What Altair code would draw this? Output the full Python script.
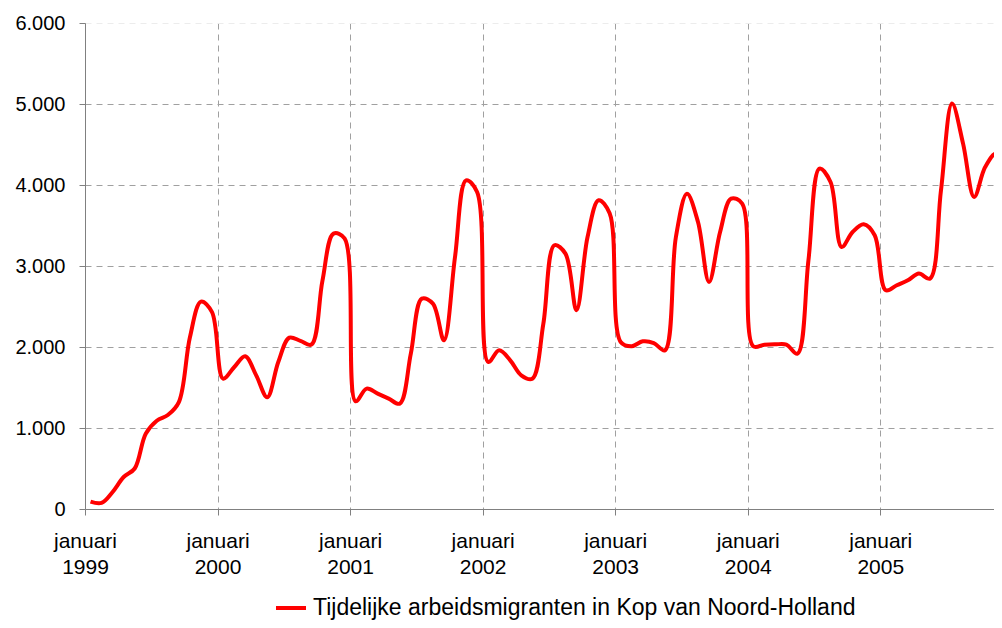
import altair as alt
import pandas as pd

series_name = "Tijdelijke arbeidsmigranten in Kop van Noord-Holland"

# monthly values, januari 1999 .. december 2005
values = [
    90, 75, 210, 395, 500, 930, 1090, 1160, 1320, 2120, 2560, 2430,      # 1999
    1610, 1750, 1885, 1650, 1380, 1815, 2115, 2075, 2030, 2820, 3400, 3340,  # 2000
    1330, 1486, 1424, 1363, 1301, 1918, 2597, 2536, 2083, 3111, 4058, 3914,  # 2001
    1815, 1959, 1836, 1651, 1609, 2289, 3256, 3153, 2453, 3358, 3811, 3650,  # 2002
    2062, 2009, 2070, 2049, 1959, 3358, 3893, 3543, 2802, 3420, 3832, 3770,  # 2003
    2009, 2029, 2033, 2030, 1918, 3070, 4202, 4037, 3235, 3420, 3515, 3379,  # 2004
    2700, 2762, 2823, 2906, 2844, 3935, 5005, 4511, 3852, 4222, 4388, 4050,  # 2005
]
years = [1999, 2000, 2001, 2002, 2003, 2004, 2005]
y_ticks = [0, 1000, 2000, 3000, 4000, 5000, 6000]

df = pd.DataFrame({
    "m": [i + 0.5 for i in range(len(values))],
    "v": values,
    "s": [series_name] * len(values),
})

FONT = "Liberation Sans"
year_ticks = [(y - years[0]) * 12 for y in years]

chart = alt.Chart(df).mark_line(
    interpolate="catmull-rom", strokeWidth=4, clip=True
).encode(
    x=alt.X(
        "m:Q",
        scale=alt.Scale(domain=[0, 82.3], nice=False, zero=False),
        axis=alt.Axis(
            values=year_ticks,
            title=None,
            labelExpr="['januari', toString(1999 + datum.value / 12)]",
            grid=True,
            gridDash=[6, 5],
            gridColor="#a0a0a0",
            gridWidth=1,
            tickSize=6,
            tickColor="#808080",
            domainColor="#808080",
            labelPadding=15,
            labelLineHeight=26,
            labelFontSize=21,
            labelFont=FONT,
            labelColor="#000000",
            labelBaseline="top",
            labelFlush=False,
            labelOverlap=False,
        ),
    ),
    y=alt.Y(
        "v:Q",
        scale=alt.Scale(domain=[0, 6000], nice=False),
        axis=alt.Axis(
            values=y_ticks,
            title=None,
            labelExpr="replace(format(datum.value, ','), ',', '.')",
            grid=True,
            gridDash=[6, 5],
            gridColor={"condition": {"test": "datum.value >= 6000", "value": "#ececec"}, "value": "#a0a0a0"},
            gridWidth=1,
            tickSize=6,
            tickColor="#808080",
            domainColor="#808080",
            labelPadding=14,
            labelFontSize=20,
            labelFont=FONT,
            labelColor="#000000",
            labelFlush=False,
            labelOverlap=False,
        ),
    ),
    color=alt.Color(
        "s:N",
        scale=alt.Scale(range=["#ff0000"]),
        legend=alt.Legend(
            title=None,
            orient="none",
            legendX=189,
            legendY=568,
            symbolType="stroke",
            symbolStrokeWidth=4,
            symbolSize=900,
            labelFontSize=23,
            labelFont=FONT,
            labelColor="#000000",
            labelLimit=0,
            labelOffset=5,
        ),
    ),
).properties(
    width=909,
    height=486,
    autosize=alt.AutoSizeParams(type="none"),
    padding={"left": 77, "top": 15, "right": 0, "bottom": 111},
    background="#ffffff",
).configure_view(stroke=None)

chart.save("out.html", embed_options={"renderer": "svg", "actions": False})
